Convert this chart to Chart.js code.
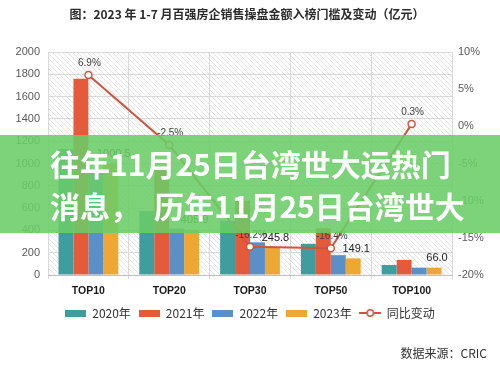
<!DOCTYPE html>
<html><head><meta charset="utf-8">
<script src="https://cdn.jsdelivr.net/npm/chart.js@4/dist/chart.umd.min.js"></script>
<style>
html,body{margin:0;padding:0;background:#fff;}
#wrap{position:relative;width:500px;height:369px;overflow:hidden;background:#fff;}
#c{position:absolute;left:0;top:0;}
#title{position:absolute;left:-3px;top:5px;width:500px;text-align:center;font:bold 12px "Noto Sans CJK SC";color:#2b2b2b;white-space:nowrap;}
#src{position:absolute;right:13px;top:344px;font:12px "Noto Sans CJK SC";color:#333;}
#banner{position:absolute;left:0;top:135px;width:500px;height:98px;background:rgba(106,205,102,0.88);}
.bl{position:absolute;left:50px;color:#fff;font:bold 30px "Noto Sans CJK SC";white-space:nowrap;line-height:30px;}
</style></head>
<body>
<div id="wrap">
<canvas id="c" width="500" height="369"></canvas>
<div id="title">图：2023 年 1-7 月百强房企销售操盘金额入榜门槛及变动（亿元）</div>
<div id="src">数据来源：CRIC</div>
<div id="banner"></div>
<div class="bl" style="top:148px">往年11月25日台湾世大运热门</div>
<div class="bl" style="top:190px">消息<span style="margin-right:14px">，</span>历年11月25日台湾世大</div>
</div>
<script>
const categories = ['TOP10', 'TOP20', 'TOP30', 'TOP50', 'TOP100'];
const seriesNames = ['2020年', '2021年', '2022年', '2023年'];
const lineName = '同比变动';
const v2020 = [1130, 575, 485, 280, 90];
const v2021 = [1760, 940, 665, 420, 135];
const v2022 = [936, 416, 293, 178, 66];
const v2023 = [1000.5, 405.9, 245.8, 149.1, 66.0];
const yoyChange = [6.9, -2.5, -16.2, -16.4, 0.3];
const leftTicks = [0, 200, 400, 600, 800, 1000, 1200, 1400, 1600, 1800, 2000];
const rightTicks = [10, 5, 0, -5, -10, -15, -20];

const barColors = ['#3f9e9d', '#e55a3b', '#5b8fc8', '#efa733'];
const lineColor = '#d0533f';
const seriesValues = [v2020, v2021, v2022, v2023];

function boxImg(color) {
  const c = document.createElement('canvas');
  c.width = 21; c.height = 7;
  const x = c.getContext('2d');
  x.fillStyle = color; x.fillRect(0, 0, 21, 7);
  return c;
}
function lineImg(color) {
  const c = document.createElement('canvas');
  c.width = 22; c.height = 10;
  const x = c.getContext('2d');
  x.strokeStyle = color; x.lineWidth = 2;
  x.beginPath(); x.moveTo(0, 5); x.lineTo(22, 5); x.stroke();
  x.fillStyle = '#fff'; x.lineWidth = 1.5;
  x.beginPath(); x.arc(11, 5, 3.2, 0, Math.PI * 2); x.fill(); x.stroke();
  return c;
}
function hatch() {
  const c = document.createElement('canvas');
  c.width = 5; c.height = 5;
  const x = c.getContext('2d');
  x.fillStyle = '#fff'; x.fillRect(0, 0, 5, 5);
  x.strokeStyle = '#e3e3e3'; x.lineWidth = 1;
  x.beginPath(); x.moveTo(0, 0); x.lineTo(5, 5); x.moveTo(-1, 4); x.lineTo(1, 6); x.moveTo(4, -1); x.lineTo(6, 1); x.stroke();
  return c;
}
const legendImgs = barColors.map(boxImg).concat([lineImg(lineColor)]);

const bgPlugin = {
  id: 'bgHatch',
  beforeDraw(chart) {
    const {ctx, chartArea: a} = chart;
    ctx.save();
    ctx.fillStyle = ctx.createPattern(hatch(), 'repeat');
    ctx.fillRect(a.left, a.top, a.right - a.left, a.bottom - a.top);
    ctx.restore();
  }
};
const labelPlugin = {
  id: 'valLabels',
  afterDatasetsDraw(chart) {
    const ctx = chart.ctx;
    ctx.save();
    ctx.textAlign = 'center';
    ctx.textBaseline = 'bottom';
    const barMeta = chart.getDatasetMeta(3);
    ctx.font = '11px "Liberation Sans"';
    ctx.fillStyle = '#222';
    barMeta.data.forEach((el, i) => {
      ctx.fillText(v2023[i].toFixed(1), el.x + 3, el.y - 4);
    });
    const lineMeta = chart.getDatasetMeta(4);
    ctx.font = '10px "Liberation Sans"';
    ctx.fillStyle = '#404040';
    lineMeta.data.forEach((el, i) => {
      ctx.fillText(yoyChange[i].toFixed(1) + '%', el.x + 1, el.y - 7);
    });
    ctx.restore();
  }
};

const datasets = seriesNames.map((n, i) => ({
  type: 'bar', label: n, data: seriesValues[i], backgroundColor: barColors[i],
  yAxisID: 'y', order: 2, categoryPercentage: 0.74, barPercentage: 1.0
}));
datasets.push({
  type: 'line', label: lineName, data: yoyChange, yAxisID: 'y1', order: 0,
  borderColor: lineColor, borderWidth: 2, pointRadius: 3.5, pointBorderWidth: 1.5,
  pointBackgroundColor: '#fff', pointBorderColor: lineColor, pointStyle: 'circle'
});

new Chart(document.getElementById('c'), {
  data: { labels: categories, datasets },
  plugins: [bgPlugin, labelPlugin],
  options: {
    responsive: false, animation: false,
    layout: { padding: { top: 52, left: 0, right: 0, bottom: 40 } },
    plugins: {
      title: { display: false }, tooltip: { enabled: false },
      legend: {
        position: 'bottom', align: 'center', fullSize: false,
        labels: { usePointStyle: true, pointStyleWidth: 21, boxHeight: 10, padding: 8,
          color: '#333', font: { size: 12, family: '"Noto Sans CJK SC"' },
          generateLabels(chart) {
            return chart.data.datasets.map((d, i) => ({
              text: d.label, pointStyle: legendImgs[i], fillStyle: 'transparent', strokeStyle: 'transparent',
              lineWidth: 0, datasetIndex: i, hidden: false, fontColor: '#333'
            }));
          }
        }
      }
    },
    scales: {
      x: {
        grid: { offset: true, color: '#d9d9d9', tickLength: 4, drawOnChartArea: true },
        border: { color: '#bfbfbf' },
        ticks: { color: '#1a1a1a', font: { size: 10.5, weight: 'bold', family: '"Liberation Sans"' }, padding: 6 },
        afterFit(s) { s.height = 24; }
      },
      y: {
        position: 'left', min: 0, max: 2000,
        afterBuildTicks(s) { s.ticks = leftTicks.map(v => ({ value: v })); },
        grid: { color: '#d9d9d9', drawTicks: false },
        border: { display: false },
        ticks: { color: '#595959', font: { size: 11, family: '"Liberation Sans"' }, padding: 8,
          callback: v => String(v) },
        afterFit(s) { s.width = 48; }
      },
      y1: {
        position: 'right', min: -20, max: 10,
        afterBuildTicks(s) { s.ticks = rightTicks.map(v => ({ value: v })); },
        grid: { drawOnChartArea: false, drawTicks: false },
        border: { display: false },
        ticks: { color: '#595959', font: { size: 11, family: '"Liberation Sans"' }, padding: 6,
          callback: v => v + '%' },
        afterFit(s) { s.width = 48; }
      }
    }
  }
});
</script>
</body></html>
